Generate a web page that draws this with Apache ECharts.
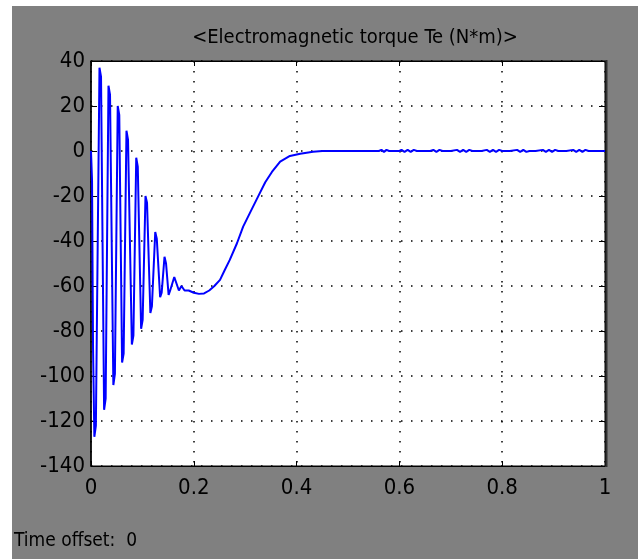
<!DOCTYPE html>
<html>
<head>
<meta charset="utf-8">
<script src="https://cdn.jsdelivr.net/npm/echarts@6/dist/echarts.min.js"></script>
<style>
  html, body { margin: 0; padding: 0; background: #ffffff; width: 638px; height: 559px; overflow: hidden; }
  #main { position: absolute; left: 12px; top: 6px; width: 626px; height: 553px; }
</style>
</head>
<body>
<div id="main"></div>
<script>
// Electromagnetic torque trace: time (s) and torque (N*m)
const startTime = [0, 0.002, 0.004, 0.0065, 0.0095, 0.0165, 0.0195, 0.0255, 0.0285, 0.034, 0.037,
  0.0435, 0.0465, 0.052, 0.055, 0.0605, 0.0635, 0.069, 0.072, 0.0795, 0.0825, 0.088, 0.091,
  0.0975, 0.1005, 0.106, 0.109, 0.1155, 0.1185, 0.125, 0.128, 0.1345, 0.1375, 0.143, 0.146,
  0.151, 0.154, 0.162, 0.165, 0.171, 0.176, 0.182, 0.190, 0.200, 0.210, 0.220,
  0.230, 0.240, 0.251, 0.260, 0.270, 0.284, 0.296, 0.309, 0.325, 0.339, 0.352, 0.368, 0.387, 0.407, 0.432, 0.450];
const startTorque = [0, -13, -88, -127, -122, 37, 33, -115, -110, 29, 25,
  -104, -99, 20, 16, -94, -90, 9, 5, -86, -82, -3, -7,
  -79, -75, -20, -23, -72, -69, -36, -39, -65, -63, -47, -50,
  -64, -62, -56, -58, -62, -60, -62, -62, -63, -63.5, -63.3,
  -62, -60, -57.3, -53, -48.4, -41, -33.6, -27.6, -20.3, -13.9, -9.3, -4.7, -2.2, -1.2, -0.3, 0];

// Steady-state part with its small ripple
const steadyTime = [0.47, 0.50, 0.53, 0.56, 0.565, 0.57, 0.575, 0.58, 0.60,
  0.604, 0.610, 0.616, 0.622, 0.628, 0.634, 0.66, 0.666, 0.672, 0.678, 0.684, 0.70,
  0.712, 0.718, 0.724, 0.730, 0.736, 0.742, 0.76, 0.770, 0.776, 0.782, 0.788, 0.794, 0.800,
  0.815, 0.829, 0.835, 0.841, 0.847, 0.853, 0.865, 0.879, 0.885, 0.891, 0.897, 0.903, 0.909,
  0.925, 0.938, 0.944, 0.950, 0.956, 0.962, 0.968, 0.985, 1.0];
const steadyTorque = [0, 0, 0, 0, 0.5, -0.4, 0.5, 0, 0,
  0.5, -0.4, 0.5, -0.4, 0.5, 0, 0, 0.5, -0.4, 0.5, 0, 0,
  0.5, -0.4, 0.5, -0.4, 0.5, 0, 0, 0.5, -0.4, 0.5, -0.4, 0.5, 0,
  0, 0.5, -0.4, 0.5, -0.4, 0, 0, 0.5, -0.4, 0.5, -0.4, 0.5, 0,
  0, 0.5, -0.4, 0.5, -0.4, 0.5, 0, 0, 0];

const xTicks = [0, 0.2, 0.4, 0.6, 0.8, 1];
const yTicks = [-140, -120, -100, -80, -60, -40, -20, 0, 20, 40];

const titleText = '<Electromagnetic torque Te (N*m)>';
const footerText = 'Time offset:  0';

const points = [];
startTime.forEach((t, i) => points.push([t, startTorque[i]]));
steadyTime.forEach((t, i) => points.push([t, steadyTorque[i]]));

const FONT = '"Liberation Sans Narrow", "DejaVu Sans Condensed", "Liberation Sans", sans-serif';
const dotted = { color: '#000', width: 1.5, type: [1.5, 8.5] };

function xAxisCfg(pos, showLabels) {
  return {
    type: 'value', position: pos,
    min: xTicks[0], max: xTicks[xTicks.length - 1], interval: xTicks[1] - xTicks[0],
    axisLine: { show: true, onZero: false, lineStyle: { color: '#000', width: 1 } },
    axisTick: { show: true, inside: true, length: 5, lineStyle: { color: '#000', width: 1 } },
    axisLabel: { show: showLabels, color: '#000', fontFamily: FONT, fontSize: 22, margin: 11 },
    splitLine: { show: showLabels, lineStyle: dotted }
  };
}
function yAxisCfg(pos, showLabels) {
  return {
    type: 'value', position: pos,
    min: yTicks[0], max: yTicks[yTicks.length - 1], interval: yTicks[1] - yTicks[0],
    axisLine: { show: true, onZero: false, lineStyle: { color: '#000', width: showLabels ? 1.5 : 1 } },
    axisTick: { show: true, inside: true, length: 6, lineStyle: { color: '#000', width: 1 } },
    axisLabel: { show: showLabels, color: '#000', fontFamily: FONT, fontSize: 22, margin: 6 },
    splitLine: { show: showLabels, lineStyle: dotted }
  };
}

const chart = echarts.init(document.getElementById('main'), null, { renderer: 'canvas' });
chart.setOption({
  animation: false,
  backgroundColor: '#808080',
  title: {
    text: titleText, left: 338, top: 17, textAlign: 'center',
    textStyle: { color: '#000', fontWeight: 'normal', fontFamily: FONT, fontSize: 20 }
  },
  grid: { left: 79, top: 55, width: 514, height: 405, show: true, backgroundColor: '#ffffff', borderColor: '#000', borderWidth: 1 },
  xAxis: [xAxisCfg('bottom', true), xAxisCfg('top', false)],
  yAxis: [yAxisCfg('left', true), yAxisCfg('right', false)],
  graphic: [
    { type: 'line', shape: { x1: 594.5, y1: 54, x2: 594.5, y2: 461 }, style: { stroke: '#303030', lineWidth: 2 }, z: 100 },
    { type: 'text', left: 2, top: 526, style: { text: footerText, fill: '#000', font: '19px ' + FONT } }
  ],
  series: [{
    type: 'line', data: points, showSymbol: false, xAxisIndex: 0, yAxisIndex: 0,
    lineStyle: { color: '#0000ff', width: 2 }, itemStyle: { color: '#0000ff' },
    clip: true
  }]
});
</script>
</body>
</html>
